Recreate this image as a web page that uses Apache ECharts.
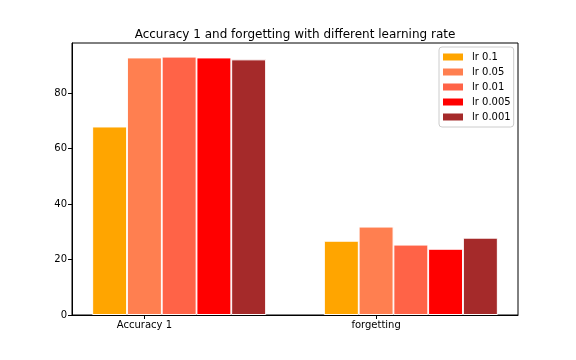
<!DOCTYPE html>
<html><head><meta charset="utf-8">
<script src="https://cdn.jsdelivr.net/npm/echarts@6/dist/echarts.min.js"></script>
<style>html,body{margin:0;padding:0;background:#fff}#c{width:576px;height:360px}</style>
</head><body><div id="c"></div>
<script>
const categories = ['Accuracy 1', 'forgetting'];
const seriesNames = ['lr 0.1', 'lr 0.05', 'lr 0.01', 'lr 0.005', 'lr 0.001'];
const lr01 = [68.0, 26.8];
const lr005 = [92.9, 31.9];
const lr001 = [93.2, 25.4];
const lr0005 = [92.9, 23.9];
const lr0001 = [92.2, 27.9];
const yTicks = [0, 20, 40, 60, 80];
const colors = ['#FFA500', '#FF7F50', '#FF6347', '#FF0000', '#A52A2A'];

const allValues = [lr01, lr005, lr001, lr0005, lr0001];
const barStep = 0.15;
const font = 'DejaVu Sans';
const chart = echarts.init(document.getElementById('c'), null, {renderer: 'canvas'});
chart.setOption({
  animation: false,
  title: {text: 'Accuracy 1 and forgetting with different learning rate', left: 290, top: 24, textAlign: 'center',
    textStyle: {fontFamily: font, fontSize: 12, fontWeight: 'normal', color: '#000'}},
  grid: {left: 72, right: 58, top: 43, bottom: 45, show: true, borderColor: '#000', borderWidth: 1, containLabel: false},
  legend: {orient: 'vertical', left: 439, top: 47, itemWidth: 20, itemHeight: 7, itemGap: 3,
    padding: [4, 3, 4, 4], borderColor: '#ccc', borderWidth: 1, borderRadius: 3,
    textStyle: {fontFamily: font, fontSize: 10, color: '#000', lineHeight: 12, padding: [0, 0, 0, 4]},
    data: seriesNames.map((n, i) => ({name: n, icon: 'rect', itemStyle: {borderWidth: 0, color: colors[i]}}))},
  xAxis: {type: 'value', min: -0.1625, max: 1.7625,
    axisLine: {show: true, onZero: false, lineStyle: {color: '#000'}},
    axisTick: {show: true, length: 4, lineStyle: {color: '#000'}, customValues: categories.map((c, g) => g + barStep)},
    axisLabel: {fontFamily: font, fontSize: 10, color: '#000', margin: 5,
      customValues: categories.map((c, g) => g + barStep),
      formatter: v => categories[Math.round(v - barStep)]},
    splitLine: {show: false}},
  yAxis: {type: 'value', min: 0, max: 98.1, interval: 20,
    axisLine: {show: true, onZero: false, lineStyle: {color: '#000'}},
    axisTick: {show: true, length: 4, lineStyle: {color: '#000'}, customValues: yTicks},
    axisLabel: {fontFamily: font, fontSize: 10, color: '#000', margin: 5, customValues: yTicks},
    splitLine: {show: false}},
  series: seriesNames.map((n, i) => ({
    name: n, type: 'bar', barWidth: 35, barGap: '-100%',
    itemStyle: {color: colors[i], borderColor: '#fff', borderWidth: 1},
    data: categories.map((c, g) => [g + i * barStep, allValues[i][g]])
  }))
});
</script></body></html>
